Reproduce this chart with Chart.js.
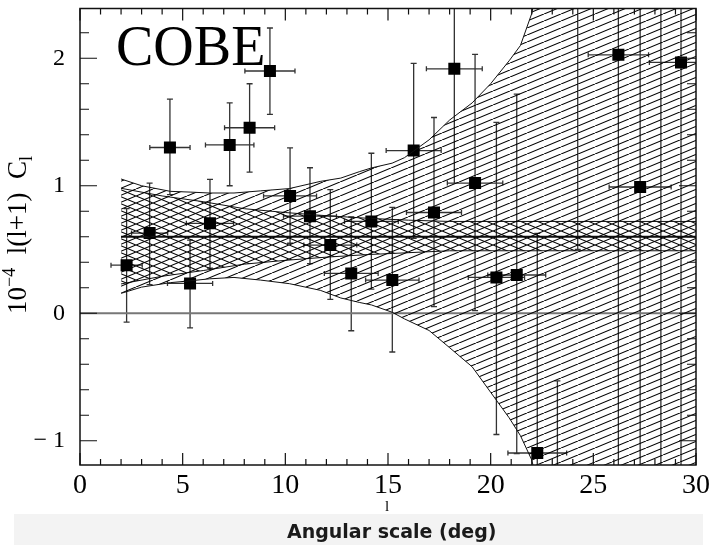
<!DOCTYPE html>
<html>
<head>
<meta charset="utf-8">
<script src="https://cdn.jsdelivr.net/npm/chart.js@4.4.0/dist/chart.umd.min.js"></script>
<style>
  html, body { margin: 0; padding: 0; background: #fff; }
  #wrap { width: 714px; height: 545px; }
</style>
</head>
<body>
<div id="wrap"><canvas id="cobe" width="714" height="545"></canvas></div>
<script>
// COBE band powers: multipole, half bin width, value and error bar ends (units of 1e-4)
var ell    = [2.27, 3.39, 4.38, 5.36, 6.33, 7.29, 8.26, 9.25, 10.23, 11.2, 12.19, 13.21, 14.19, 15.21, 16.25, 17.24, 18.23, 19.24, 20.28, 21.27, 22.27, 23.25, 24.24, 26.22, 27.28, 28.29, 29.27];
var ellErr = [0.76, 0.88, 0.98, 1.1, 1.15, 1.18, 1.22, 1.22, 1.29, 1.29, 1.29, 1.31, 1.31, 1.3, 1.34, 1.34, 1.36, 1.35, 1.37, 1.41, 1.43, 1.45, 1.46, 1.47, 1.51, 1.52, 1.54];
var cl     = [0.377, 0.629, 1.30, 0.234, 0.705, 1.32, 1.455, 1.90, 0.92, 0.761, 0.535, 0.312, 0.72, 0.26, 1.276, 0.79, 1.917, 1.021, 0.281, 0.30, -1.096, -2.1, 3.0, 2.027, 0.99, 3.2, 1.967];
var clLow  = [-0.07, 0.224, 0.93, -0.114, 0.354, 1.0, 1.107, 1.559, 0.549, 0.39, 0.109, -0.137, 0.19, -0.304, 0.588, 0.052, 1.02, 0.021, -0.951, -1.10, -2.8, -3.7, 0.50, -3, -3, -3, -3];
var clHigh = [0.82, 1.02, 1.68, 0.574, 1.05, 1.65, 1.80, 2.237, 1.297, 1.141, 0.97, 0.755, 1.255, 0.83, 1.96, 1.535, 2.9, 2.03, 1.497, 1.718, 0.627, -0.53, 5.5, 5, 5, 6, 5];

// outer (single hatched) band
var outerL     = [2, 3, 4.4, 5.4, 6.3, 7.5, 8.8, 10.2, 11.7, 12.7, 13.6, 14.2, 15.2, 15.8, 17, 18, 19.1, 20, 20.9, 21.45, 22, 22.3, 30];
var outerUpper = [1.053, 1.0, 0.956, 0.95, 0.943, 0.943, 0.96, 0.978, 1.034, 1.06, 1.11, 1.14, 1.177, 1.22, 1.36, 1.515, 1.65, 1.80, 1.98, 2.1, 2.35, 2.6, 3.5];
var outerLower = [0.156, 0.205, 0.24, 0.255, 0.27, 0.281, 0.26, 0.232, 0.18, 0.12, 0.085, 0.065, 0.008, -0.044, -0.135, -0.27, -0.42, -0.62, -0.82, -0.96, -1.15, -1.35, -3.5];

// inner (cross hatched) band and its mean
var innerL     = [2, 4, 6, 8, 10, 12, 14, 16, 18, 30];
var innerUpper = [0.98, 0.92, 0.875, 0.82, 0.79, 0.765, 0.745, 0.73, 0.72, 0.72];
var innerLower = [0.23, 0.29, 0.335, 0.385, 0.415, 0.44, 0.46, 0.475, 0.49, 0.49];
var meanL  = [2, 30];
var meanCl = [0.6, 0.6];
var zeroL  = [0, 30];
var zeroCl = [0, 0];

// axes
var xMin = 0, xMax = 30, yMin = -1.19, yMax = 2.39;
var xMajorTicks = [0, 5, 10, 15, 20, 25, 30];
var xMinorTicks = [1, 2, 3, 4, 6, 7, 8, 9, 11, 12, 13, 14, 16, 17, 18, 19, 21, 22, 23, 24, 26, 27, 28, 29];
var yMajorTicks = [-1, 0, 1, 2];
var yMinorTicks = [-0.8, -0.6, -0.4, -0.2, 0.2, 0.4, 0.6, 0.8, 1.2, 1.4, 1.6, 1.8, 2.2];

var SERIF = '"Liberation Serif", "Times New Roman", serif';

function pts(xs, ys) {
    return xs.map(function(v, i) { return { x: v, y: ys[i] }; });
}

function hatch(rising) {
    var w = 17, h = 7;
    var c = document.createElement('canvas');
    c.width = w; c.height = h;
    var g = c.getContext('2d');
    g.strokeStyle = '#000';
    g.lineWidth = 1.1;
    g.beginPath();
    [-w, 0, w].forEach(function(off) {
        if (rising) { g.moveTo(off, h); g.lineTo(off + w, 0); }
        else { g.moveTo(off, 0); g.lineTo(off + w, h); }
    });
    g.stroke();
    return g.createPattern(c, 'repeat');
}

function line(ctx, x0, y0, x1, y1) {
    ctx.moveTo(x0, y0);
    ctx.lineTo(x1, y1);
}

function drawErrorBars(chart) {
    var ctx = chart.ctx, xs = chart.scales.x, ys = chart.scales.y, a = chart.chartArea;
    ctx.save();
    ctx.beginPath();
    ctx.rect(a.left, a.top, a.right - a.left, a.bottom - a.top);
    ctx.clip();
    ctx.strokeStyle = '#333';
    ctx.lineWidth = 1.3;
    ctx.beginPath();
    for (var i = 0; i < ell.length; i++) {
        var px = xs.getPixelForValue(ell[i]), py = ys.getPixelForValue(cl[i]);
        var x0 = xs.getPixelForValue(ell[i] - ellErr[i]), x1 = xs.getPixelForValue(ell[i] + ellErr[i]);
        var y0 = ys.getPixelForValue(clLow[i]), y1 = ys.getPixelForValue(clHigh[i]);
        line(ctx, px, y0, px, y1);
        line(ctx, px - 3, y0, px + 3, y0);
        line(ctx, px - 3, y1, px + 3, y1);
        line(ctx, x0, py, x1, py);
        line(ctx, x0, py - 2.5, x0, py + 2.5);
        line(ctx, x1, py - 2.5, x1, py + 2.5);
    }
    ctx.stroke();
    ctx.restore();
}

function drawFrame(chart) {
    var ctx = chart.ctx, xs = chart.scales.x, ys = chart.scales.y, a = chart.chartArea;
    ctx.save();
    ctx.strokeStyle = '#111';
    ctx.lineWidth = 1.5;
    ctx.strokeRect(a.left, a.top, a.right - a.left, a.bottom - a.top);

    ctx.lineWidth = 1.2;
    ctx.beginPath();
    xMajorTicks.forEach(function(v) {
        var p = xs.getPixelForValue(v);
        line(ctx, p, a.bottom, p, a.bottom - 12);
        line(ctx, p, a.top, p, a.top + 12);
    });
    xMinorTicks.forEach(function(v) {
        var p = xs.getPixelForValue(v);
        line(ctx, p, a.bottom, p, a.bottom - 6);
        line(ctx, p, a.top, p, a.top + 6);
    });
    yMajorTicks.forEach(function(v) {
        var p = ys.getPixelForValue(v);
        line(ctx, a.left, p, a.left + 17, p);
        line(ctx, a.right, p, a.right - 17, p);
    });
    yMinorTicks.forEach(function(v) {
        var p = ys.getPixelForValue(v);
        line(ctx, a.left, p, a.left + 9, p);
        line(ctx, a.right, p, a.right - 9, p);
    });
    ctx.stroke();

    // label inside the plot
    ctx.fillStyle = '#000';
    ctx.font = '56px ' + SERIF;
    ctx.textAlign = 'left';
    ctx.textBaseline = 'alphabetic';
    ctx.fillText('COBE', 116, 65);

    // x axis title
    ctx.font = '15px ' + SERIF;
    ctx.textAlign = 'center';
    ctx.fillText('l', 387, 511);

    // grey caption strip
    ctx.fillStyle = '#f3f3f3';
    ctx.fillRect(14, 514, 689, 31);
    ctx.fillStyle = '#1a1a1a';
    ctx.font = 'bold 19px "DejaVu Sans", sans-serif';
    ctx.textAlign = 'left';
    ctx.fillText('Angular scale (deg)', 287, 538);

    // y axis title, rotated, with super- and subscript
    var parts = [
        { t: '10', s: 27, dy: 0 },
        { t: '\u22124', s: 18, dy: -11 },
        { t: '  l(l+1)  C', s: 27, dy: 0 },
        { t: 'l', s: 18, dy: 6 }
    ];
    var total = 0;
    parts.forEach(function(p) {
        ctx.font = p.s + 'px ' + SERIF;
        p.w = ctx.measureText(p.t).width;
        total += p.w;
    });
    ctx.translate(26, 235);
    ctx.rotate(-Math.PI / 2);
    ctx.textAlign = 'left';
    ctx.fillStyle = '#000';
    var cx = -total / 2;
    parts.forEach(function(p) {
        ctx.font = p.s + 'px ' + SERIF;
        ctx.fillText(p.t, cx, p.dy);
        cx += p.w;
    });
    ctx.restore();
}

var framePlugin = {
    id: 'frame',
    beforeDatasetDraw: function(chart, args) {
        if (args.index === 6) drawErrorBars(chart);
    },
    afterDraw: drawFrame
};

function noPad(s) {
    s.paddingTop = 0; s.paddingBottom = 0;
    s.paddingLeft = 0; s.paddingRight = 0;
}

var lineStyle = { showLine: true, pointRadius: 0, borderColor: '#111', borderWidth: 1, fill: false, tension: 0 };

new Chart(document.getElementById('cobe'), {
    type: 'scatter',
    data: {
        datasets: [
            Object.assign({}, lineStyle, { data: pts(outerL, outerUpper), fill: '+1', backgroundColor: hatch(true) }),
            Object.assign({}, lineStyle, { data: pts(outerL, outerLower) }),
            Object.assign({}, lineStyle, { data: pts(innerL, innerUpper), fill: '+1', backgroundColor: hatch(false) }),
            Object.assign({}, lineStyle, { data: pts(innerL, innerLower) }),
            Object.assign({}, lineStyle, { data: pts(meanL, meanCl), borderWidth: 2.2 }),
            Object.assign({}, lineStyle, { data: pts(zeroL, zeroCl), borderColor: '#777', borderWidth: 2 }),
            {
                data: pts(ell, cl),
                pointStyle: 'rect',
                pointRadius: 8.5,
                backgroundColor: '#000',
                borderColor: '#000',
                borderWidth: 0,
                showLine: false
            }
        ]
    },
    options: {
        responsive: false,
        animation: false,
        devicePixelRatio: 1,
        events: [],
        layout: { padding: { top: 6, right: 18, left: 0, bottom: 0 } },
        plugins: { legend: { display: false }, tooltip: { enabled: false } },
        scales: {
            x: {
                type: 'linear', min: xMin, max: xMax,
                grid: { display: false, drawTicks: false },
                border: { display: false },
                afterBuildTicks: function(s) { s.ticks = xMajorTicks.map(function(v) { return { value: v }; }); },
                afterFit: function(s) { s.height = 80; noPad(s); },
                ticks: { padding: 4, color: '#000', font: { family: SERIF, size: 28 }, maxRotation: 0, autoSkip: false }
            },
            y: {
                type: 'linear', min: yMin, max: yMax,
                grid: { display: false, drawTicks: false },
                border: { display: false },
                afterBuildTicks: function(s) { s.ticks = yMajorTicks.map(function(v) { return { value: v }; }); },
                afterFit: function(s) { s.width = 80; noPad(s); },
                ticks: {
                    padding: 15, color: '#000', font: { family: SERIF, size: 24 }, autoSkip: false,
                    callback: function(v) { return v < 0 ? '\u2212 ' + Math.abs(v) : String(v); }
                }
            }
        }
    },
    plugins: [framePlugin]
});
</script>
</body>
</html>
